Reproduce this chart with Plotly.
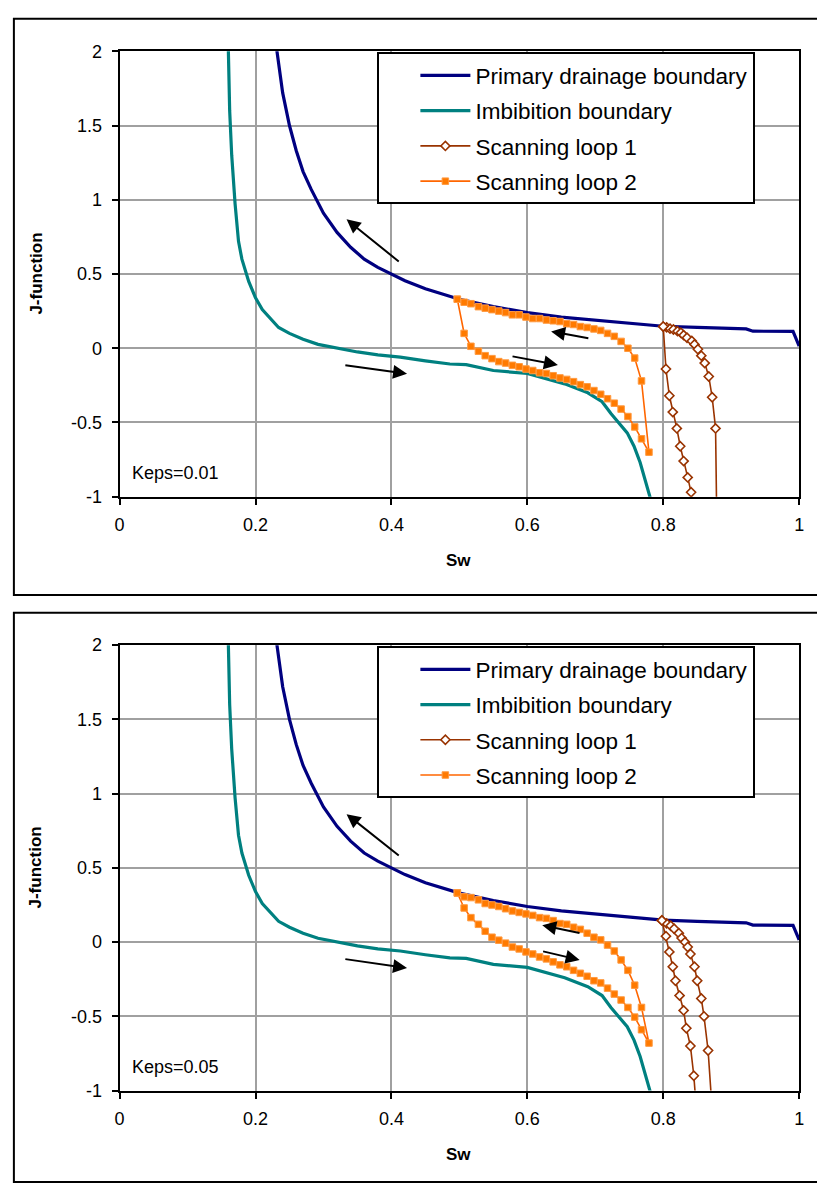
import plotly.graph_objects as go

W, H = 817, 1194

# ---------------- data ----------------
# Primary drainage boundary (same in both panels)
drain_sw = [0.231, 0.240, 0.250, 0.260, 0.270, 0.282, 0.300, 0.320, 0.340, 0.360, 0.380,
            0.400, 0.420, 0.450, 0.480, 0.500, 0.550, 0.600, 0.650, 0.700, 0.750, 0.800,
            0.850, 0.900, 0.922, 0.932, 0.960, 0.991, 1.000]
drain_j = [2.02, 1.72, 1.50, 1.33, 1.19, 1.07, 0.91, 0.78, 0.68, 0.60, 0.545,
           0.50, 0.455, 0.40, 0.355, 0.33, 0.28, 0.24, 0.21, 0.19, 0.17, 0.148,
           0.14, 0.132, 0.13, 0.115, 0.115, 0.113, 0.015]

# Imbibition boundary (same in both panels)
imb_sw = [0.160, 0.162, 0.165, 0.170, 0.175, 0.180, 0.190, 0.200, 0.210, 0.234, 0.250,
          0.270, 0.292, 0.320, 0.350, 0.380, 0.413, 0.450, 0.486, 0.510, 0.550, 0.600,
          0.630, 0.655, 0.689, 0.710, 0.723, 0.747, 0.757, 0.766, 0.781]
imb_j = [2.02, 1.60, 1.30, 0.97, 0.72, 0.60, 0.45, 0.34, 0.26, 0.14, 0.10,
         0.06, 0.026, 0.0, -0.025, -0.045, -0.06, -0.085, -0.106, -0.11, -0.15, -0.17,
         -0.21, -0.24, -0.30, -0.36, -0.44, -0.57, -0.66, -0.77, -1.01]

# Scanning loop 2: saturation grid shared by the lower (imbibition) and upper (drainage) branches
loop2_sw = [0.497, 0.507, 0.517, 0.528, 0.538, 0.548, 0.558, 0.568, 0.578, 0.588,
            0.598, 0.608, 0.618, 0.628, 0.638, 0.648, 0.658, 0.668, 0.678, 0.688,
            0.698, 0.708, 0.718, 0.728, 0.738, 0.748, 0.758, 0.768, 0.779]
# Keps = 0.01
loop2_lower_k1 = [0.33, 0.10, 0.013, -0.02, -0.05, -0.07, -0.09, -0.10, -0.115, -0.125,
                  -0.14, -0.15, -0.165, -0.17, -0.185, -0.20, -0.21, -0.225, -0.245, -0.26,
                  -0.285, -0.31, -0.34, -0.37, -0.41, -0.46, -0.53, -0.61, -0.70]
loop2_upper_k1 = [0.33, 0.31, 0.30, 0.28, 0.27, 0.26, 0.25, 0.24, 0.225, 0.225,
                  0.21, 0.20, 0.20, 0.19, 0.185, 0.18, 0.165, 0.16, 0.146, 0.14,
                  0.13, 0.12, 0.10, 0.08, 0.046, 0.0, -0.066, -0.22, -0.70]
# Keps = 0.05
loop2_lower_k5 = [0.331, 0.23, 0.165, 0.12, 0.073, 0.033, 0.013, -0.007, -0.033, -0.046,
                  -0.066, -0.08, -0.10, -0.113, -0.133, -0.153, -0.166, -0.19, -0.21, -0.23,
                  -0.26, -0.275, -0.31, -0.35, -0.39, -0.44, -0.505, -0.59, -0.68]
loop2_upper_k5 = [0.331, 0.305, 0.30, 0.285, 0.26, 0.25, 0.24, 0.225, 0.21, 0.20,
                  0.19, 0.18, 0.165, 0.16, 0.145, 0.125, 0.12, 0.10, 0.086, 0.06,
                  0.033, 0.015, -0.02, -0.06, -0.12, -0.19, -0.29, -0.44, -0.68]

# Scanning loop 1 (outer branch down, then inner branch back up; ends run below the axis)
loop1_sw_k1 = [0.800, 0.805, 0.810, 0.815, 0.821, 0.826, 0.830, 0.835, 0.842, 0.846, 0.851,
               0.856, 0.861, 0.867, 0.872, 0.877, 0.880, 0.846, 0.841, 0.836, 0.830, 0.825,
               0.820, 0.814, 0.809, 0.804, 0.800]
loop1_j_k1 = [0.146, 0.141, 0.132, 0.126, 0.115, 0.104, 0.088, 0.071, 0.049, 0.026, -0.007,
              -0.05, -0.10, -0.19, -0.33, -0.54, -1.60, -1.25, -0.97, -0.87, -0.76, -0.66,
              -0.54, -0.43, -0.32, -0.14, 0.146]
loop1_sw_k5 = [0.798, 0.805, 0.811, 0.816, 0.823, 0.827, 0.832, 0.836, 0.840, 0.846, 0.850,
               0.856, 0.860, 0.866, 0.876, 0.850, 0.845, 0.840, 0.834, 0.830, 0.824, 0.818,
               0.814, 0.809, 0.804, 0.798]
loop1_j_k5 = [0.146, 0.126, 0.11, 0.09, 0.06, 0.027, 0.0, -0.033, -0.08, -0.166, -0.26,
              -0.38, -0.50, -0.73, -1.40, -1.20, -0.90, -0.70, -0.58, -0.46, -0.36, -0.26,
              -0.166, -0.066, 0.04, 0.146]

x_ticks = [0, 0.2, 0.4, 0.6, 0.8, 1]
x_ticktext = ["0", "0.2", "0.4", "0.6", "0.8", "1"]
y_ticks = [2, 1.5, 1, 0.5, 0, -0.5, -1]
y_ticktext = ["2", "1.5", "1", "0.5", "0", "-0.5", "-1"]

panel_labels = ["Keps=0.01", "Keps=0.05"]
series_names = ["Primary drainage boundary", "Imbibition boundary",
                "Scanning loop 1", "Scanning loop 2"]

# arrows: (tail_sw, tail_j, head_sw, head_j)
arrows_k1 = [(0.413, 0.576, 0.334, 0.868), (0.330, -0.113, 0.423, -0.172),
             (0.692, 0.066, 0.635, 0.113), (0.576, -0.053, 0.645, -0.113)]
arrows_k5 = [(0.413, 0.576, 0.334, 0.862), (0.330, -0.113, 0.423, -0.175),
             (0.679, 0.060, 0.622, 0.113), (0.621, -0.060, 0.677, -0.120)]

# ---------------- figure ----------------
C_DRAIN = "#000080"
C_IMB = "#008080"
C_L1 = "#993300"
C_L2 = "#FF6600"
FONT = "Arial, Liberation Sans, sans-serif"

fig = go.Figure()


def px_x(p):
    return p / W


def px_y(p):
    return 1 - p / H


panels = [
    dict(xa="x", ya="y", legend="legend", l2=(loop2_lower_k1, loop2_upper_k1),
         l1=(loop1_sw_k1, loop1_j_k1), arrows=arrows_k1, label=panel_labels[0],
         top=42, bottom=495, frame=(9, 595), tag="a"),
    dict(xa="x2", ya="y2", legend="legend2", l2=(loop2_lower_k5, loop2_upper_k5),
         l1=(loop1_sw_k5, loop1_j_k5), arrows=arrows_k5, label=panel_labels[1],
         top=646, bottom=1099, frame=(613, 1192), tag="b"),
]

annotations = []
shapes = []
for p in panels:
    lower, upper = p["l2"]
    l2x = loop2_sw + loop2_sw[::-1][1:]
    l2y = lower + upper[::-1][1:]
    common = dict(xaxis=p["xa"], yaxis=p["ya"], legend=p["legend"], mode="lines")
    fig.add_trace(go.Scatter(x=drain_sw, y=drain_j, name=series_names[0],
                             legendgroup=p["tag"] + "1",
                             line=dict(color=C_DRAIN, width=3.2), **common))
    fig.add_trace(go.Scatter(x=imb_sw, y=imb_j, name=series_names[1],
                             legendgroup=p["tag"] + "2",
                             line=dict(color=C_IMB, width=3.2), **common))
    common["mode"] = "lines+markers"
    fig.add_trace(go.Scatter(x=p["l1"][0], y=p["l1"][1], name=series_names[2],
                             legendgroup=p["tag"] + "3",
                             line=dict(color=C_L1, width=1.6),
                             marker=dict(symbol="diamond", size=7, color="white",
                                         line=dict(color=C_L1, width=1.6)), **common))
    fig.add_trace(go.Scatter(x=l2x, y=l2y, name=series_names[3],
                             legendgroup=p["tag"] + "4",
                             line=dict(color=C_L2, width=1.6),
                             marker=dict(symbol="square", size=6.5, color="#FF7A00",
                                         line=dict(color="#FF9A40", width=1)), **common))
    for (tx, ty, hx, hy) in p["arrows"]:
        annotations.append(dict(x=hx, y=hy, ax=tx, ay=ty, xref=p["xa"], yref=p["ya"],
                                axref=p["xa"], ayref=p["ya"], text="", showarrow=True,
                                arrowhead=2, arrowsize=1.4, arrowwidth=2, arrowcolor="black",
                                standoff=0, startstandoff=0))
    annotations.append(dict(x=px_x(127), y=px_y(p["bottom"] - 24), xref="paper", yref="paper",
                            xanchor="left", yanchor="middle", text=p["label"], showarrow=False,
                            font=dict(family=FONT, size=18, color="black")))
    # axis titles
    annotations.append(dict(x=px_x(459), y=px_y(p["bottom"] + 65), xref="paper", yref="paper",
                            text="<b>Sw</b>", showarrow=False, xanchor="center", yanchor="middle",
                            font=dict(family=FONT, size=17, color="black")))
    annotations.append(dict(x=px_x(31), y=px_y((p["top"] + p["bottom"]) / 2), xref="paper",
                            yref="paper", text="<b>J-function</b>", showarrow=False, textangle=-90,
                            xanchor="center", yanchor="middle",
                            font=dict(family=FONT, size=17, color="black")))
    shapes.append(dict(type="rect", xref="paper", yref="paper", x0=px_x(9), x1=1.05,
                       y0=px_y(p["frame"][1]), y1=px_y(p["frame"][0]),
                       line=dict(color="black", width=2), layer="below"))

axis_common = dict(showgrid=True, gridcolor="#A0A0A0", gridwidth=1.5, zeroline=False,
                   showline=True, linecolor="black", linewidth=2, mirror=True,
                   ticks="outside", ticklen=6, tickwidth=1.5, tickcolor="black",
                   tickfont=dict(family=FONT, size=18, color="black"))
xdom = [px_x(116), px_x(804)]

legend_common = dict(xanchor="left", yanchor="top", bgcolor="white", bordercolor="black",
                     borderwidth=2, font=dict(family=FONT, size=22.5, color="black"),
                     itemwidth=50, indentation=36, tracegroupgap=3,
                     entrywidth=390, entrywidthmode="pixels")

fig.update_layout(
    width=W, height=H, margin=dict(l=0, r=0, t=0, b=0),
    paper_bgcolor="white", plot_bgcolor="white",
    xaxis=dict(domain=xdom, anchor="y", range=[0, 1], tickvals=x_ticks, ticktext=x_ticktext,
               ticklabelstandoff=5, **axis_common),
    yaxis=dict(domain=[px_y(495), px_y(42)], anchor="x", range=[-1, 2], tickvals=y_ticks,
               ticktext=y_ticktext, ticklabelstandoff=6, **axis_common),
    xaxis2=dict(domain=xdom, anchor="y2", range=[0, 1], tickvals=x_ticks, ticktext=x_ticktext,
                ticklabelstandoff=5, **axis_common),
    yaxis2=dict(domain=[px_y(1099), px_y(646)], anchor="x2", range=[-1, 2], tickvals=y_ticks,
                ticktext=y_ticktext, ticklabelstandoff=6, **axis_common),
    legend=dict(x=px_x(377), y=px_y(43), **legend_common),
    legend2=dict(x=px_x(377), y=px_y(647), **legend_common),
    annotations=annotations,
    shapes=shapes,
)

fig.write_html("out.html")
